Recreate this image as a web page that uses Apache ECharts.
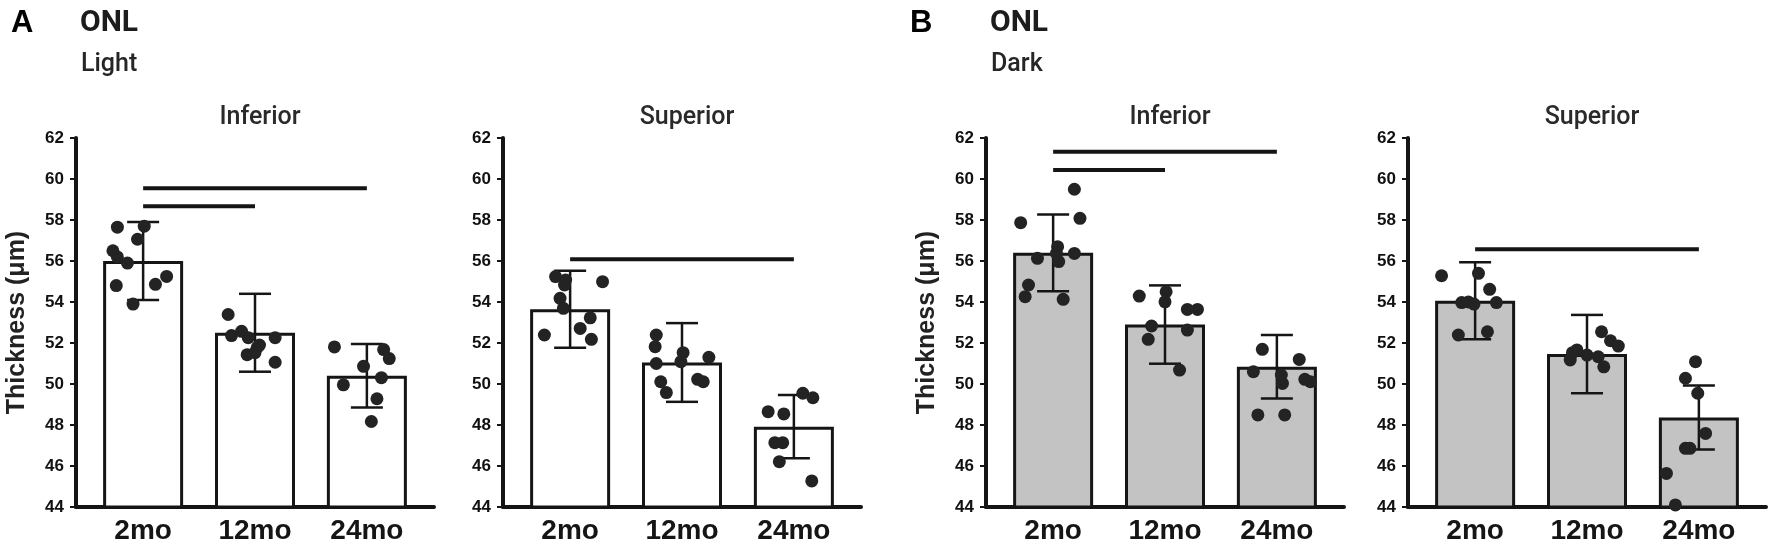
<!DOCTYPE html>
<html>
<head>
<meta charset="utf-8">
<script src="https://cdn.jsdelivr.net/npm/echarts@6/dist/echarts.min.js"></script>
<style>
  html, body { margin: 0; padding: 0; background: #fff; }
  #chart { width: 1772px; height: 550px; }
</style>
</head>
<body>
<div id="chart"></div>
<script>
// age groups (x categories)
const ages = ['2mo', '12mo', '24mo'];

// ONL Light - Inferior
const lightInfMean = [56.0, 52.5, 50.4];
const lightInfSd = [1.9, 1.9, 1.55];
const lightInfDots = [
  [-0.23, 57.65], [0.01, 57.7], [-0.05, 57.06], [-0.27, 56.5], [-0.23, 56.2],
  [-0.14, 55.9], [0.11, 54.86], [0.21, 55.25], [-0.24, 54.8], [-0.09, 53.9],
  [0.76, 53.39], [0.79, 52.36], [0.88, 52.57], [0.94, 52.26], [1.02, 51.78],
  [0.93, 51.43], [1.0, 51.53], [1.04, 51.9], [1.18, 52.26], [1.18, 51.06],
  [1.71, 51.81], [1.97, 50.86], [1.79, 49.96], [2.15, 51.68], [2.2, 51.24],
  [2.13, 50.31], [2.09, 49.28], [2.04, 48.17]
];
const lightInfSig = [[0, 2, 59.55], [0, 1, 58.67]];

// ONL Light - Superior
const lightSupMean = [53.65, 51.05, 47.92];
const lightSupSd = [1.88, 1.92, 1.54];
const lightSupDots = [
  [-0.13, 55.24], [-0.04, 55.07], [-0.05, 54.83], [0.29, 54.99], [-0.09, 54.18],
  [-0.06, 53.69], [0.18, 53.23], [0.09, 52.71], [-0.23, 52.39], [0.19, 52.18],
  [0.77, 52.39], [0.76, 51.82], [0.77, 51.0], [1.01, 51.53], [0.99, 51.09],
  [1.24, 51.3], [0.81, 50.11], [0.86, 49.58], [1.14, 50.23], [1.19, 50.11],
  [1.77, 48.65], [1.91, 48.54], [2.08, 49.55], [2.17, 49.33], [1.83, 47.14],
  [1.9, 47.14], [1.87, 46.21], [2.16, 45.27]
];
const lightSupSig = [[0, 2, 56.08]];

// ONL Dark - Inferior
const darkInfMean = [56.4, 52.9, 50.84];
const darkInfSd = [1.87, 1.91, 1.55];
const darkInfDots = [
  [-0.29, 57.87], [0.19, 59.5], [0.24, 58.08], [-0.14, 56.13], [0.04, 56.7],
  [0.03, 56.37], [0.05, 55.97], [0.19, 56.37], [-0.22, 54.83], [-0.25, 54.26],
  [0.09, 54.13],
  [0.77, 54.29], [1.01, 54.5], [1.0, 54.01], [1.2, 53.64], [1.29, 53.64],
  [0.88, 52.83], [1.2, 52.63], [0.85, 52.18], [1.13, 50.68],
  [1.87, 51.69], [2.2, 51.2], [1.79, 50.6], [2.04, 50.44], [2.05, 50.03],
  [2.25, 50.23], [2.3, 50.11], [1.83, 48.49], [2.07, 48.49]
];
const darkInfSig = [[0, 2, 61.33], [0, 1, 60.44]];

// ONL Dark - Superior
const darkSupMean = [54.06, 51.46, 48.37];
const darkSupSd = [1.88, 1.91, 1.56];
const darkSupDots = [
  [-0.3, 55.28], [0.03, 55.4], [0.13, 54.62], [-0.12, 53.97], [-0.06, 54.0],
  [-0.01, 53.9], [0.19, 53.97], [-0.15, 52.39], [0.11, 52.55],
  [0.91, 51.66], [0.85, 51.17], [0.87, 51.53], [1.0, 51.41], [1.1, 51.33],
  [1.15, 50.84], [1.13, 52.55], [1.21, 52.11], [1.28, 51.85],
  [1.97, 51.09], [1.88, 50.28], [1.99, 49.55], [2.06, 47.59], [1.88, 46.86],
  [1.92, 46.86], [1.71, 45.64], [1.79, 44.1]
];
const darkSupSig = [[0, 2, 56.57]];

const panels = [
  { mean: lightInfMean, sd: lightInfSd, dots: lightInfDots, sig: lightInfSig, fill: '#ffffff', left: 76, title: 'Inferior', yName: 'Thickness (μm)' },
  { mean: lightSupMean, sd: lightSupSd, dots: lightSupDots, sig: lightSupSig, fill: '#ffffff', left: 503, title: 'Superior', yName: '' },
  { mean: darkInfMean, sd: darkInfSd, dots: darkInfDots, sig: darkInfSig, fill: '#c3c3c3', left: 986, title: 'Inferior', yName: 'Thickness (μm)' },
  { mean: darkSupMean, sd: darkSupSd, dots: darkSupDots, sig: darkSupSig, fill: '#c3c3c3', left: 1408, title: 'Superior', yName: '' }
];

const INK = '#151515';
const GRID_W = 358;

const renderErr = (params, api) => {
  const x = api.value(0);
  const m = api.value(1);
  const s = api.value(2);
  const top = api.coord([x, m + s]);
  const bot = api.coord([x, m - s]);
  const cap = 16;
  const style = { stroke: INK, lineWidth: 2.5 };
  return {
    type: 'group',
    children: [
      { type: 'line', shape: { x1: top[0], y1: top[1], x2: bot[0], y2: bot[1] }, style },
      { type: 'line', shape: { x1: top[0] - cap, y1: top[1], x2: top[0] + cap, y2: top[1] }, style },
      { type: 'line', shape: { x1: bot[0] - cap, y1: bot[1], x2: bot[0] + cap, y2: bot[1] }, style }
    ]
  };
};

const renderSig = (params, api) => {
  const a = api.coord([api.value(0), api.value(2)]);
  const b = api.coord([api.value(1), api.value(2)]);
  return {
    type: 'line',
    shape: { x1: a[0], y1: a[1], x2: b[0], y2: b[1] },
    style: { stroke: INK, lineWidth: 4 }
  };
};

const grid = [];
const xAxis = [];
const yAxis = [];
const series = [];
const title = [
  { text: 'A', left: 6, top: 3, textStyle: { fontFamily: 'Liberation Sans', fontSize: 31, fontWeight: 'bold', color: '#000' } },
  { text: 'ONL', left: 75, top: 3, textStyle: { fontFamily: 'Roboto', fontSize: 30, fontWeight: 'bold', color: '#1c1c1c' } },
  { text: 'Light', left: 76, top: 47, textStyle: { fontFamily: 'Roboto', fontSize: 25, fontWeight: 500, color: '#262626' } },
  { text: 'B', left: 905, top: 3, textStyle: { fontFamily: 'Liberation Sans', fontSize: 31, fontWeight: 'bold', color: '#000' } },
  { text: 'ONL', left: 985, top: 3, textStyle: { fontFamily: 'Roboto', fontSize: 30, fontWeight: 'bold', color: '#1c1c1c' } },
  { text: 'Dark', left: 986, top: 47, textStyle: { fontFamily: 'Roboto', fontSize: 25, fontWeight: 500, color: '#262626' } }
];

panels.forEach((p, i) => {
  grid.push({ left: p.left, top: 138, width: GRID_W, height: 369 });
  title.push({
    text: p.title,
    left: p.left + GRID_W / 2,
    top: 100,
    textAlign: 'center',
    textStyle: { fontFamily: 'Roboto', fontSize: 25, fontWeight: 500, color: '#2a2a2a' }
  });
  xAxis.push({
    type: 'value',
    gridIndex: i,
    min: -0.6,
    max: 2.6,
    splitLine: { show: false },
    axisTick: { show: false },
    axisLine: { show: true, onZero: false, lineStyle: { color: INK, width: 4 } },
    axisLabel: {
      customValues: [0, 1, 2],
      formatter: v => ages[Math.round(v)],
      margin: 10,
      fontFamily: 'Liberation Sans',
      fontSize: 28,
      fontWeight: 'bold',
      color: INK
    }
  });
  yAxis.push({
    type: 'value',
    gridIndex: i,
    min: 44,
    max: 62,
    interval: 2,
    name: p.yName,
    nameLocation: 'middle',
    nameGap: 46,
    nameTextStyle: { fontFamily: 'Liberation Sans', fontSize: 25, fontWeight: 'bold', color: '#222' },
    splitLine: { show: false },
    axisLine: { show: true, onZero: false, lineStyle: { color: INK, width: 4 } },
    axisTick: { show: true, length: 6, lineStyle: { color: INK, width: 2 } },
    axisLabel: { margin: 12, fontFamily: 'Liberation Sans', fontSize: 17, fontWeight: 'bold', color: '#111' }
  });
  series.push({
    type: 'bar',
    xAxisIndex: i,
    yAxisIndex: i,
    barWidth: 80,
    z: 1,
    itemStyle: { color: p.fill, borderColor: INK, borderWidth: 3 },
    data: p.mean.map((m, k) => [k, m])
  });
  series.push({
    type: 'custom',
    xAxisIndex: i,
    yAxisIndex: i,
    z: 2,
    renderItem: renderErr,
    data: p.mean.map((m, k) => [k, m, p.sd[k]])
  });
  series.push({
    type: 'scatter',
    xAxisIndex: i,
    yAxisIndex: i,
    z: 3,
    symbolSize: 13,
    itemStyle: { color: '#232323', opacity: 1 },
    data: p.dots
  });
  series.push({
    type: 'custom',
    xAxisIndex: i,
    yAxisIndex: i,
    z: 3,
    renderItem: renderSig,
    encode: { x: [0, 1], y: 2 },
    data: p.sig
  });
});

const chart = echarts.init(document.getElementById('chart'));
chart.setOption({
  animation: false,
  backgroundColor: '#fff',
  title,
  grid,
  xAxis,
  yAxis,
  series
});
</script>
</body>
</html>
